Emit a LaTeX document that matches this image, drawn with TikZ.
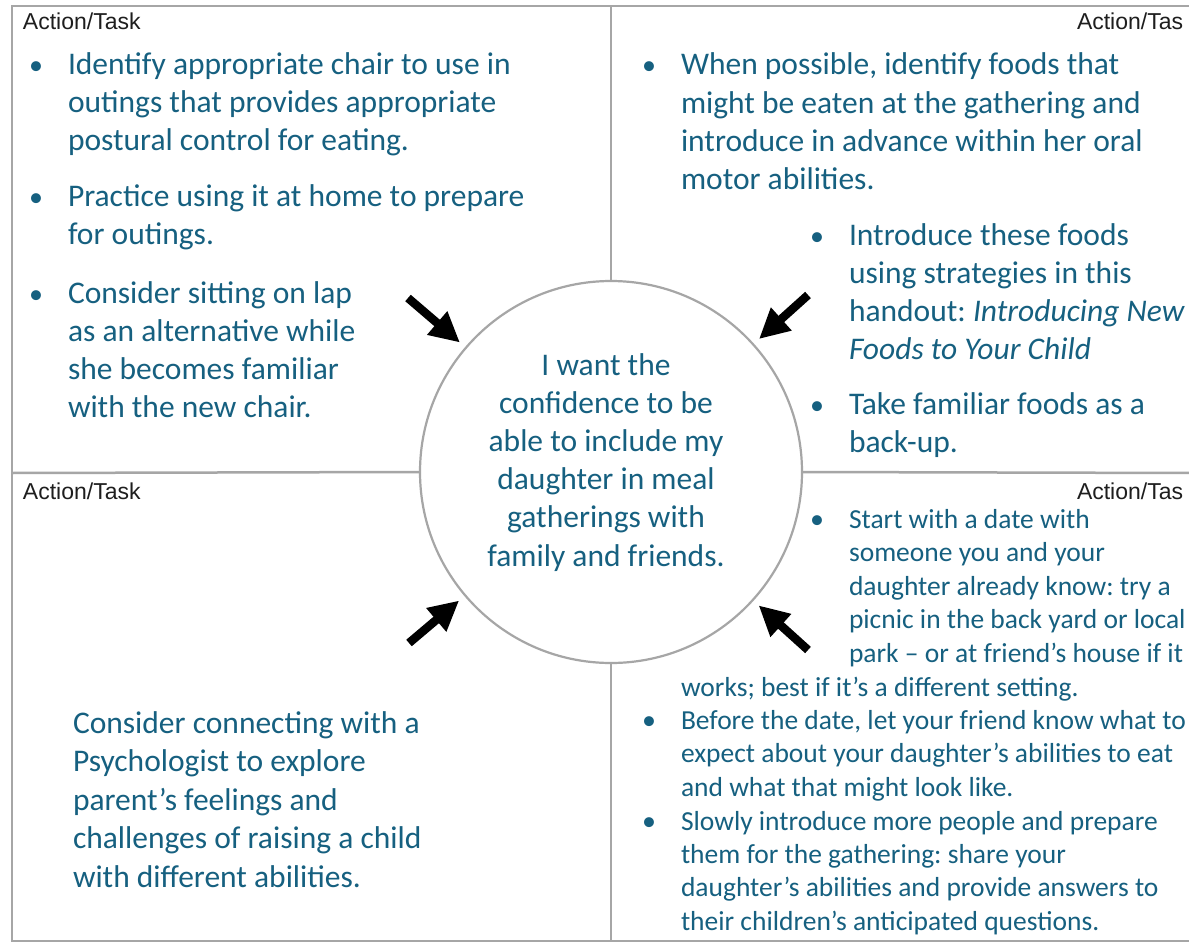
\documentclass[tikz,border=0pt]{standalone}
\usepackage{fontspec}
\setmainfont{Carlito}
\newfontfamily\labelfont{Liberation Sans}
\usetikzlibrary{arrows.meta}
\definecolor{teal}{RGB}{22,96,128}
\definecolor{rule}{RGB}{166,166,166}
\definecolor{labelgray}{RGB}{30,30,30}
\tikzset{
  body/.style={inner sep=0pt, outer sep=0pt, text=teal, font=\fontsize{31.5}{38}\selectfont, anchor=base west},
  small/.style={inner sep=0pt, outer sep=0pt, text=teal, font=\fontsize{27.5}{33}\selectfont, anchor=base west},
  bul/.style={inner sep=0pt, outer sep=0pt, text=teal, font=\fontsize{28}{33}\selectfont, anchor=base},
  ctr/.style={inner sep=0pt, outer sep=0pt, text=teal, font=\fontsize{31.5}{38}\selectfont, anchor=base},
  tasklabel/.style={inner sep=0pt, outer sep=0pt, text=labelgray, font=\labelfont\fontsize{23}{26}\selectfont, anchor=base west},
  frame/.style={draw=rule, line width=2.5pt},
  bigarrow/.style={line width=8.5pt, -{Triangle[length=30pt,width=29pt]}, black, shorten >=8pt}
}
\frenchspacing
\begin{document}
\begin{tikzpicture}[x=1pt,y=-1pt]
\useasboundingbox (0,0) rectangle (1189,947);
\fill[white] (0,0) rectangle (1189,947);
\clip (0,0) rectangle (1189,947);

% circle
\node[circle, draw=rule, line width=2.2pt, minimum size=382pt, inner sep=0pt, outer sep=0pt] (c) at (611,472) {};

% frame and dividers
\draw[frame] (1195,6) -- (12,6) -- (12,941) -- (1195,941);
\draw[frame] (611,6) -- (c.north);
\draw[frame] (c.south) -- (611,941);
\draw[frame] (12,473) -- (c.west);
\draw[frame] (c.east) -- (1195,473);

% labels
\node[tasklabel] (lab1) at (23,30) {Action/Task};
\node[tasklabel] (lab2) at (1077,30) {Action/Tas};
\node[tasklabel] (lab3) at (23,499) {Action/Task};
\node[tasklabel] (lab4) at (1077,499) {Action/Tas};

% top-left
\node[bul] (b1) at (36,75) {•};
\foreach \t [count=\i from 0] in {{Identify appropriate chair to use in},{outings that provides appropriate},{postural control for eating.}}
  \node[body, name=tlA\i] at (68,75+37.7*\i) {\t};
\node[bul] (b2) at (36,206) {•};
\foreach \t [count=\i from 0] in {{Practice using it at home to prepare},{for outings.}}
  \node[body, name=tlB\i] at (68,206+38*\i) {\t};
\node[bul] (b3) at (36,303) {•};
\foreach \t [count=\i from 0] in {{Consider sitting on lap},{as an alternative while},{she becomes familiar},{with the new chair.}}
  \node[body, name=tlC\i] at (68,303+38*\i) {\t};

% top-right
\node[bul] (b4) at (649,75) {•};
\foreach \t [count=\i from 0] in {{When possible, identify foods that},{might be eaten at the gathering and},{introduce in advance within her oral},{motor abilities.}}
  \node[body, name=trA\i] at (681,75+38.3*\i) {\t};
\node[bul] (b5) at (817,245) {•};
\node[body] (trB0) at (849,245) {Introduce these foods};
\node[body] (trB1) at (849,283) {using strategies in this};
\node[body] (trB2) at (849,321) {handout: \textit{Introducing New}};
\node[body] (trB3) at (849,359) {\textit{Foods to Your Child}};
\node[bul] (b6) at (817,414) {•};
\node[body] (trC0) at (849,414) {Take familiar foods as a};
\node[body] (trC1) at (849,452) {back-up.};

% circle text
\foreach \t [count=\i from 0] in {{I want the},{confidence to be},{able to include my},{daughter in meal},{gatherings with},{family and friends.}}
  \node[ctr, name=ct\i] at (606,375+38.2*\i) {\t};

% bottom-left
\foreach \t [count=\i from 0] in {{Consider connecting with a},{Psychologist to explore},{parent’s feelings and},{challenges of raising a child},{with different abilities.}}
  \node[body, name=bl\i] at (73,733+38.5*\i) {\t};

% bottom-right
\node[bul] (b7) at (817,528) {•};
\foreach \t [count=\i from 0] in {{Start with a date with},{someone you and your},{daughter already know: try a},{picnic in the back yard or local},{park – or at friend’s house if it}}
  \node[small, name=brA\i] at (849,528+33.5*\i) {\t};
\node[small] (brA5) at (681,696) {works; best if it’s a different setting.};
\node[bul] (b8) at (649,729) {•};
\foreach \t [count=\i from 0] in {{Before the date, let your friend know what to},{expect about your daughter’s abilities to eat},{and what that might look like.}}
  \node[small, name=brB\i] at (681,729+33.5*\i) {\t};
\node[bul] (b9) at (649,830) {•};
\foreach \t [count=\i from 0] in {{Slowly introduce more people and prepare},{them for the gathering: share your},{daughter’s abilities and provide answers to},{their children’s anticipated questions.}}
  \node[small, name=brC\i] at (681,830+33.4*\i) {\t};

% arrows
\coordinate (t1) at (408,298);
\coordinate (t2) at (808,295);
\coordinate (t3) at (409,643);
\coordinate (t4) at (808,650);
\draw[bigarrow] (t1) -- (c);
\draw[bigarrow] (t2) -- (c);
\draw[bigarrow] (t3) -- (c);
\draw[bigarrow] (t4) -- (c);
\end{tikzpicture}
\end{document}
